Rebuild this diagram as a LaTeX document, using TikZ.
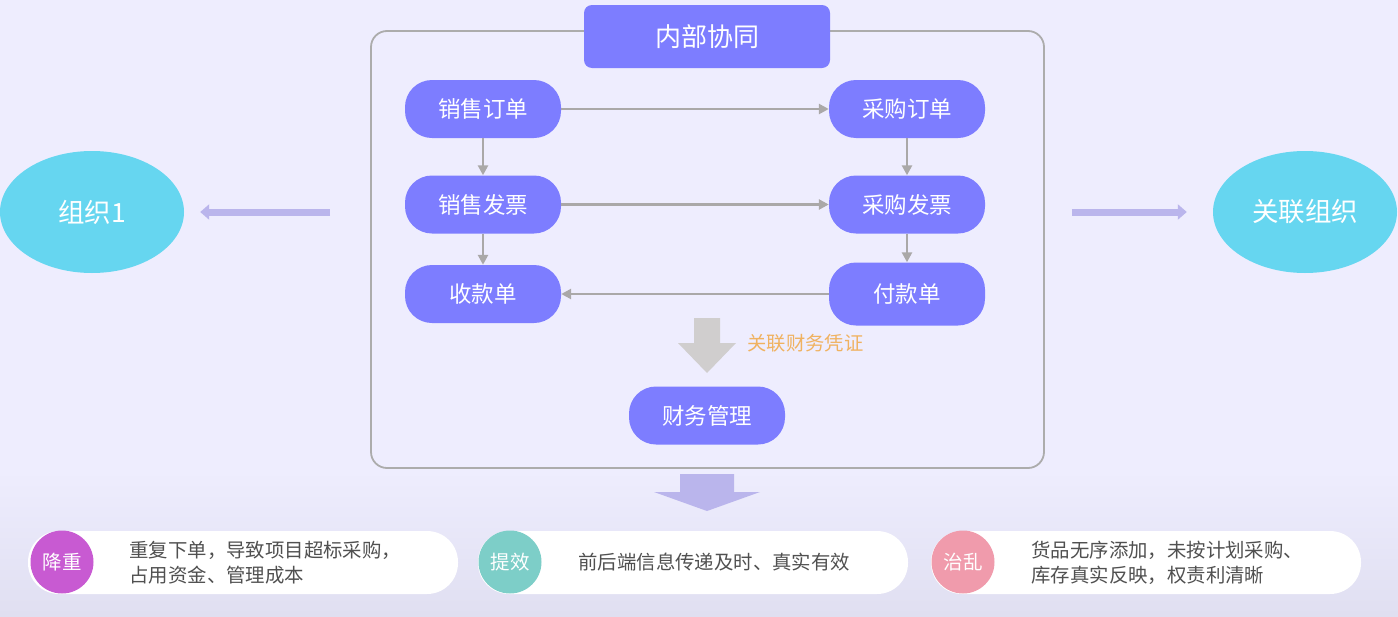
\documentclass[tikz,border=0pt]{standalone}
\usepackage{fontspec}
\setmainfont{Noto Sans CJK SC}
\usetikzlibrary{arrows.meta, positioning, shapes.geometric}
\definecolor{bgc}{RGB}{238,237,254}
\definecolor{bgd}{RGB}{224,223,241}
\definecolor{pillc}{RGB}{125,125,255}
\definecolor{linec}{RGB}{170,168,168}
\definecolor{framec}{RGB}{172,172,172}
\definecolor{orgc}{RGB}{102,214,240}
\definecolor{lilac}{RGB}{186,181,236}
\definecolor{blockc}{RGB}{208,206,206}
\definecolor{notec}{RGB}{240,178,96}
\definecolor{textc}{RGB}{80,80,80}
\definecolor{tagA}{RGB}{200,90,210}
\definecolor{tagB}{RGB}{125,206,200}
\definecolor{tagC}{RGB}{240,155,172}

\begin{document}
\begin{tikzpicture}[x=1pt, y=-1pt,
	pill/.style = {fill=pillc, text=white, rounded corners=27pt, minimum width=156pt,
	               minimum height=58pt, font=\fontsize{22.5}{22.5}\selectfont},
	org/.style  = {ellipse, fill=orgc, text=white, inner sep=0pt, minimum width=184pt,
	               minimum height=122pt, font=\fontsize{26.5}{26.5}\selectfont},
	frame/.style = {draw=framec, line width=1.8pt, rounded corners=16pt,
	               minimum width=673pt, minimum height=437pt},
	flow/.style = {draw=linec, line width=2.7pt, -{Triangle[length=10pt,width=10pt]}},
	side/.style = {draw=lilac, line width=7pt, -{Triangle[length=9pt,width=15pt]}},
	card/.style = {fill=white, rounded corners=31pt, minimum width=430pt, minimum height=63pt},
	tag/.style  = {circle, text=white, minimum size=63pt, inner sep=0pt,
	               font=\fontsize{19.5}{19.5}\selectfont},
	note/.style = {anchor=west, align=left, text=textc, font=\fontsize{19.4}{25}\selectfont}
     ]
		\useasboundingbox (0,0) rectangle (1398,616);
		\fill[bgc] (0,0) rectangle (1398,616);
		\shade[top color=bgc, bottom color=bgd] (0,470) rectangle (1398,616);
%
		\node[frame] (frame) at (707.5,249.5) {};
		\node[fill=pillc, text=white, rounded corners=8pt, minimum width=246pt, minimum height=63pt,
		      font=\fontsize{26}{26}\selectfont] (title) at (707,36.5) {内部协同};
%
		\node[pill] (so) at (483,109) {销售订单};
		\node[pill] (po) at (907,109) {采购订单};
		\node[pill] (si) at (483,204.5) {销售发票};
		\node[pill] (pi) at (907,204.5) {采购发票};
		\node[pill] (rc) at (483,294) {收款单};
		\node[pill, minimum height=63pt] (pm) at (907,294) {付款单};
		\node[pill] (fin) at (707,415.5) {财务管理};
%
		\draw[flow] (so) -- (po);
		\draw[flow] (si) -- (pi);
		\draw[flow] (pm) -- (rc);
		\draw[flow] (so) -- (si);
		\draw[flow] (si) -- (rc);
		\draw[flow] (po) -- (pi);
		\draw[flow] (pi) -- (pm);
%
		\coordinate (vt) at (707,318);
		\fill[blockc] ([xshift=-13pt] vt) -- ([xshift=13pt] vt) -- ([xshift=13pt,yshift=-25pt] vt)
		  -- ([xshift=29pt,yshift=-25pt] vt) -- ([yshift=-55pt] vt)
		  -- ([xshift=-29pt,yshift=-25pt] vt) -- ([xshift=-13pt,yshift=-25pt] vt) -- cycle;
		\node[anchor=west, text=notec, font=\fontsize{19.3}{19.3}\selectfont] (vlabel) at (744,343) {关联财务凭证};
%
		\node[org] (org1) at (92,212) {组织1};
		\node[org] (org2) at (1305,212) {关联组织};
		\draw[side] ([xshift=-40pt] frame.west |- org1.east) -- ([xshift=16pt] org1.east);
		\draw[side] ([xshift=27pt] frame.east |- org2.west) -- ([xshift=-26pt] org2.west);
%
		\coordinate (dn) at (707,474);
		\fill[lilac] ([xshift=-27pt] dn) -- ([xshift=27pt] dn) -- ([xshift=27pt,yshift=-18pt] dn)
		  -- ([xshift=53pt,yshift=-18pt] dn) -- ([yshift=-37pt] dn)
		  -- ([xshift=-53pt,yshift=-18pt] dn) -- ([xshift=-27pt,yshift=-18pt] dn) -- cycle;
%
		\node[card] (cardA) at (243,562.5) {};
		\node[card] (cardB) at (693,562.5) {};
		\node[card] (cardC) at (1146,562.5) {};
		\node[tag, fill=tagA] (tA) at (62,562) {降重};
		\node[tag, fill=tagB] (tB) at (510,562) {提效};
		\node[tag, fill=tagC] (tC) at (963,562) {治乱};
		\node[note] (nA) at (126,563) {重复下单，导致项目超标采购，\\占用资金、管理成本};
		\node[note] (nB) at (575,562) {前后端信息传递及时、真实有效};
		\node[note] (nC) at (1028,563) {货品无序添加，未按计划采购、\\库存真实反映，权责利清晰};
\end{tikzpicture}
\end{document}
